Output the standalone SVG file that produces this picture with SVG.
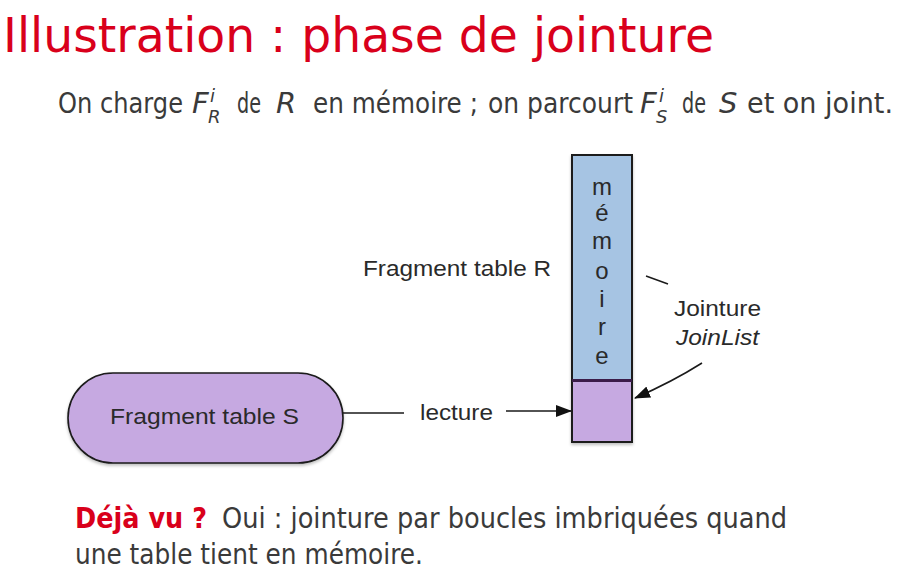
<svg xmlns="http://www.w3.org/2000/svg" width="916" height="583" viewBox="0 0 916 583">
  <style>
    .title { font-family: "DejaVu Sans", "Liberation Sans", sans-serif; font-size: 48px; fill: #d9001b; }
    .body { font-family: "DejaVu Sans", "Liberation Sans", sans-serif; font-size: 29px; fill: #3a3a3a; }
    .alert { font-family: "DejaVu Sans", "Liberation Sans", sans-serif; font-size: 28px; font-weight: bold; fill: #d9001b; }
    .math { font-family: "DejaVu Sans", "Liberation Sans", sans-serif; font-style: italic; fill: #3a3a3a; }
    .lbl { font-family: "Liberation Sans", Arial, sans-serif; font-size: 22px; fill: #2a2a2a; }
    .col { font-family: "Liberation Sans", Arial, sans-serif; font-size: 24px; fill: #2a2a2a; text-anchor: middle; }
    .edge { fill: none; stroke: #1a1a1a; stroke-width: 1.6; }
  </style>
  <defs>
    <marker id="arrow" viewBox="0 0 16 12" refX="15" refY="6" markerWidth="16" markerHeight="12" markerUnits="userSpaceOnUse" orient="auto">
      <path d="M0,0 L16,6 L0,12 Z" fill="#111"/>
    </marker>
    <filter id="shadow" x="-10%" y="-10%" width="120%" height="130%">
      <feDropShadow dx="0" dy="2" stdDeviation="1.5" flood-color="#000" flood-opacity="0.25"/>
    </filter>
  </defs>

  <rect width="916" height="583" fill="#ffffff"/>

  <!-- heading -->
  <text class="title" x="3" y="52" textLength="711" lengthAdjust="spacingAndGlyphs">Illustration  : phase de jointure</text>

  <!-- intro sentence -->
  <text class="body" x="58" y="113" textLength="125" lengthAdjust="spacingAndGlyphs">On charge</text>
  <text class="math" x="192" y="113" font-size="29">F</text>
  <text class="math" x="210" y="102" font-size="18">i</text>
  <text class="math" x="208" y="123" font-size="18">R</text>
  <text class="body" x="237" y="113" textLength="24" lengthAdjust="spacingAndGlyphs">de</text>
  <text class="math" x="276" y="113" font-size="29">R</text>
  <text class="body" x="313" y="113" textLength="165" lengthAdjust="spacingAndGlyphs">en mémoire ;</text>
  <text class="body" x="488" y="113" textLength="145" lengthAdjust="spacingAndGlyphs">on parcourt</text>
  <text class="math" x="640" y="113" font-size="29">F</text>
  <text class="math" x="659" y="102" font-size="18">i</text>
  <text class="math" x="656" y="123" font-size="18">S</text>
  <text class="body" x="682" y="113" textLength="24" lengthAdjust="spacingAndGlyphs">de</text>
  <text class="math" x="719" y="113" font-size="29">S</text>
  <text class="body" x="747" y="113" textLength="146" lengthAdjust="spacingAndGlyphs">et on joint.</text>

  <!-- connectors -->
  <g id="connectors">
    <line class="edge" x1="343" y1="413" x2="404" y2="413"/>
    <line class="edge" x1="506" y1="411" x2="571" y2="411" marker-end="url(#arrow)"/>
    <line class="edge" x1="646" y1="276" x2="668" y2="284"/>
    <path class="edge" d="M702,363 Q672,382 635,398" marker-end="url(#arrow)"/>
  </g>

  <!-- memory column -->
  <g id="memoire" filter="url(#shadow)">
    <rect x="572" y="155" width="60" height="225" fill="#a6c4e3" stroke="#1a1a1a" stroke-width="2"/>
    <rect x="572" y="380" width="60" height="62" fill="#c6a9e1" stroke="#1a1a1a" stroke-width="2"/>
    <line x1="572" y1="380.5" x2="632" y2="380.5" stroke="#3a1f4a" stroke-width="3"/>
  </g>
  <g id="memoire-label">
    <text class="col" x="602" y="195">m</text>
    <text class="col" x="602" y="221">é</text>
    <text class="col" x="602" y="249">m</text>
    <text class="col" x="602" y="279">o</text>
    <text class="col" x="602" y="307">i</text>
    <text class="col" x="602" y="335">r</text>
    <text class="col" x="602" y="364">e</text>
  </g>

  <!-- R fragment label -->
  <g id="fragment-r">
    <text class="lbl" x="363" y="276" textLength="188" lengthAdjust="spacingAndGlyphs">Fragment table R</text>
  </g>

  <!-- join label -->
  <g id="jointure">
    <text class="lbl" x="674" y="316" textLength="87" lengthAdjust="spacingAndGlyphs">Jointure</text>
    <text class="lbl" x="676" y="345" font-style="italic" textLength="83" lengthAdjust="spacingAndGlyphs">JoinList</text>
  </g>

  <!-- S fragment -->
  <g id="fragment-s">
    <rect x="68" y="373" width="275" height="90" rx="45" ry="45" fill="#c6a9e1" stroke="#1a1a1a" stroke-width="1.6" filter="url(#shadow)"/>
    <text class="lbl" x="110" y="424" textLength="189" lengthAdjust="spacingAndGlyphs">Fragment table S</text>
  </g>

  <!-- read label -->
  <g id="lecture">
    <text class="lbl" x="420" y="420" textLength="73" lengthAdjust="spacingAndGlyphs">lecture</text>
  </g>

  <!-- closing remark -->
  <text class="alert" x="75" y="528" textLength="132" lengthAdjust="spacingAndGlyphs">Déjà vu ?</text>
  <text class="body" x="222" y="528" font-size="28" textLength="565" lengthAdjust="spacingAndGlyphs">Oui : jointure par boucles imbriquées quand</text>
  <text class="body" x="75" y="564" font-size="28" textLength="348" lengthAdjust="spacingAndGlyphs">une table tient en mémoire.</text>
</svg>
